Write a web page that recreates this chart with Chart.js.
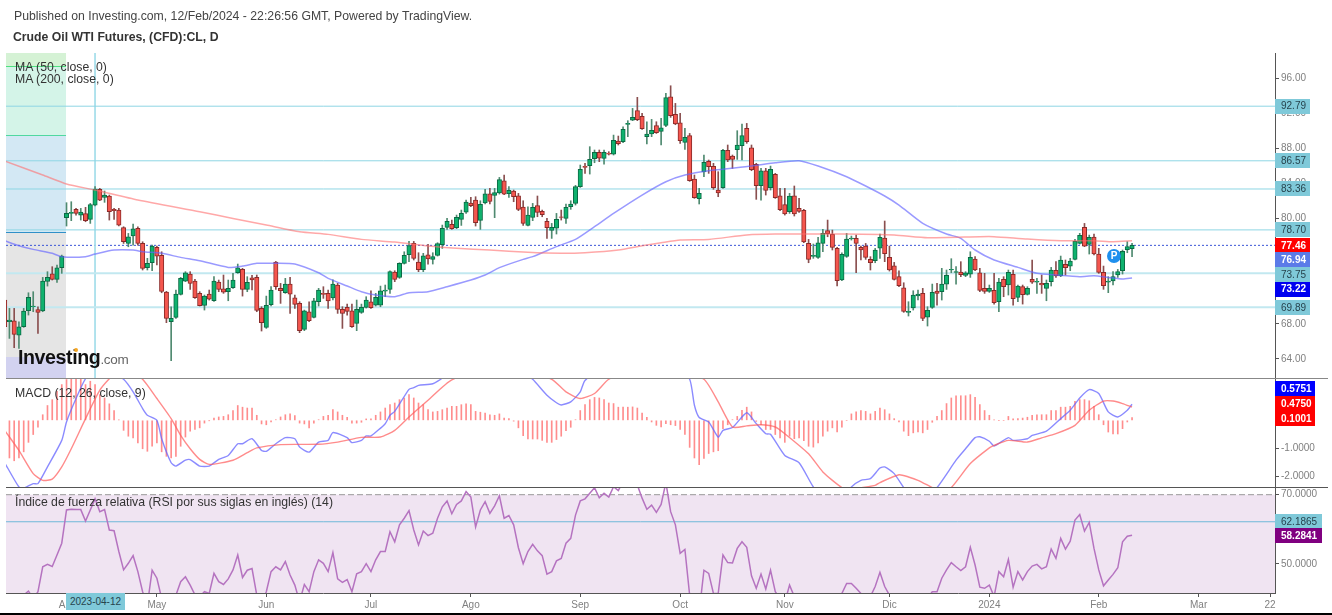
<!DOCTYPE html>
<html>
<head>
<meta charset="utf-8">
<title>Crude Oil WTI Futures</title>
<script src="https://cdn.jsdelivr.net/npm/chart.js@4"></script>
<style>
  html, body { margin: 0; padding: 0; background: #fff; overflow: hidden; }
  body { width: 1332px; height: 615px; position: relative; font-family: "Liberation Sans", Arial, sans-serif; }
  canvas { position: absolute; left: 0; }
  .txt { position: absolute; font-size: 12.25px; line-height: 14px; color: #333; white-space: nowrap; }
  .rule { position: absolute; height: 1px; }
</style>
</head>
<body>
<canvas id="priceChart" width="1332" height="379" style="top:0"></canvas>
<canvas id="macdChart" width="1332" height="110" style="top:378px"></canvas>
<canvas id="rsiChart" width="1332" height="125" style="top:488px"></canvas>

<div class="rule" style="left:6px;top:378px;width:1322px;background:#888"></div>
<div class="rule" style="left:6px;top:487px;width:1322px;background:#555"></div>
<div style="position:absolute;left:0;top:613px;width:1332px;height:2px;background:#000"></div>

<div class="txt" style="left:14px;top:9px;color:#444">Published on Investing.com, 12/Feb/2024 - 22:26:56 GMT, Powered by TradingView.</div>
<div class="txt" style="left:13px;top:30px;font-weight:bold">Crude Oil WTI Futures, (CFD):CL, D</div>
<div class="txt" style="left:15px;top:60px">MA (50, close, 0)</div>
<div class="txt" style="left:15px;top:72px">MA (200, close, 0)</div>
<div class="txt" style="left:15px;top:386px">MACD (12, 26, close, 9)</div>
<div class="txt" style="left:15px;top:495px">Índice de fuerza relativa (RSI por sus siglas en inglés) (14)</div>

<div class="txt" style="left:18px;top:345px;font-size:19.6px;line-height:24px;font-weight:bold;color:#111;letter-spacing:-0.4px">Investing<span style="font-size:13.5px;font-weight:normal;color:#666;letter-spacing:-0.3px">.com</span></div>
<div style="position:absolute;left:74px;top:348px;width:4px;height:4px;border-radius:2px;background:#f5a623"></div>

<div class="txt" style="left:1107px;top:249px;width:14px;height:14px;border-radius:7px;background:#1e90ee;color:#fff;font-weight:bold;font-size:10px;text-align:center">P</div>
<div class="txt" style="left:66px;top:593px;width:59px;height:17px;line-height:18px;font-size:10px;background:#7fc9d9;color:#27444e;text-align:center">2023-04-12</div>

<script>
// daily candles
const opens = [70.71,68.24,68.35,66.72,67.67,69.49,69.95,69.61,69.46,72.84,73.71,73.06,74.39,80.09,80.58,81.04,80.39,80.55,79.90,81.53,83.32,82.41,82.56,81.04,80.96,78.95,77.16,78.00,78.87,77.16,74.39,74.96,76.71,75.80,71.62,68.24,68.73,71.35,72.87,73.67,72.87,71.47,70.10,71.39,70.63,72.76,72.00,71.66,72.11,73.82,74.20,71.92,73.25,73.29,69.76,67.60,70.18,75.04,72.04,71.54,72.53,70.97,70.33,67.37,69.38,68.73,70.52,71.47,71.47,70.94,72.42,69.65,69.87,69.49,68.05,69.31,69.87,70.52,70.14,70.14,71.73,71.92,73.90,73.29,74.89,75.87,77.16,75.04,74.17,75.87,75.34,75.80,77.01,78.99,79.33,78.95,79.90,80.73,81.76,82.10,79.78,81.76,82.82,82.63,82.90,84.30,82.82,83.13,82.59,81.30,79.21,80.13,81.46,80.81,79.67,78.65,78.91,80.20,80.01,81.34,81.72,83.62,85.94,86.01,86.81,87.53,86.85,87.42,87.34,88.82,88.75,90.72,91.21,92.28,91.63,89.32,89.62,90.57,89.92,90.61,93.87,91.86,90.91,88.67,89.43,84.49,82.25,85.29,86.51,85.94,83.24,83.51,87.76,87.11,87.83,88.29,90.26,88.06,86.16,83.73,85.44,83.51,85.02,82.59,81.57,80.77,82.59,81.15,80.92,77.16,75.68,75.57,77.16,78.61,78.19,76.59,72.99,75.68,77.66,77.73,76.71,76.86,75.34,75.19,76.63,77.77,75.57,74.62,73.37,72.11,69.31,69.80,71.17,71.47,68.77,69.87,71.73,71.66,72.53,74.13,73.86,73.90,73.52,73.67,75.38,73.82,72.04,71.70,71.81,70.52,73.07,72.42,73.63,71.02,72.23,71.36,73.07,72.76,72.61,72.04,72.80,74.09,73.45,74.77,74.58,75.34,77.17,78.99,77.05,77.89,75.95,73.86,72.76,72.88,73.56,74.05,76.44,76.56];
const highs = [71.66,69.76,69.76,68.24,69.76,71.54,71.66,69.95,73.29,73.94,74.51,74.70,75.83,81.80,81.91,81.15,81.15,81.27,81.72,83.62,83.43,83.13,82.67,81.15,81.15,79.06,78.30,79.37,79.06,77.35,75.46,76.97,76.86,76.21,71.70,69.95,71.85,73.29,73.94,73.94,73.06,71.66,71.28,71.85,73.37,72.99,73.56,72.99,73.75,74.81,74.32,73.37,73.52,73.56,69.95,71.16,72.23,75.11,72.61,73.18,73.29,71.28,70.52,69.57,70.52,70.90,72.04,72.23,71.85,73.00,72.61,69.95,70.25,70.25,70.71,70.25,71.09,71.77,71.47,72.30,72.42,74.05,74.05,74.96,76.21,77.39,77.39,76.10,76.03,77.05,76.10,77.24,79.25,80.01,79.82,80.39,80.96,82.10,82.40,82.48,82.02,83.32,83.43,83.43,84.68,84.95,83.62,83.24,82.86,82.02,81.34,81.72,82.56,80.96,80.01,79.44,80.58,80.96,81.65,82.02,83.77,86.09,86.28,88.18,87.80,87.80,87.80,87.61,89.50,89.39,90.45,91.14,92.54,93.80,91.97,91.02,91.29,91.02,91.40,94.25,95.12,93.11,91.97,90.26,89.69,84.95,83.43,87.23,86.66,86.28,85.33,87.87,88.37,87.23,90.00,90.76,90.83,88.37,86.28,85.71,85.71,85.97,85.14,83.43,83.43,82.86,83.70,82.29,81.04,77.62,77.09,77.85,78.76,79.82,78.68,76.71,76.10,78.30,78.00,78.11,76.86,77.16,75.65,76.59,78.23,79.71,76.86,75.00,74.05,72.68,70.52,71.77,71.85,72.04,69.95,72.53,72.61,74.32,74.13,75.42,74.51,75.08,73.94,76.21,75.65,74.32,73.75,72.42,73.75,73.18,73.37,74.13,74.13,72.42,72.42,72.23,75.27,73.18,73.56,72.99,74.43,75.08,75.72,75.27,75.46,77.62,78.31,79.44,78.11,78.23,76.60,74.58,73.37,73.94,74.20,76.41,77.36,77.17];
const lows = [67.10,66.34,65.28,65.20,67.60,69.00,69.38,66.91,69.38,72.30,72.99,72.72,73.75,79.14,79.75,80.39,79.82,79.63,79.44,81.42,82.03,81.84,79.82,79.90,79.14,77.16,76.78,76.97,76.97,74.13,74.13,74.05,74.70,71.54,68.13,63.80,68.62,71.28,72.80,71.92,70.90,70.03,69.57,70.71,70.56,71.66,71.47,70.63,72.04,73.75,71.16,71.66,71.85,69.38,67.18,67.48,70.03,71.92,70.33,71.47,69.19,69.76,66.99,67.22,68.24,68.66,70.03,70.90,69.76,70.71,69.19,67.48,69.00,67.60,67.22,69.19,69.80,69.76,70.03,69.95,71.09,71.47,72.80,73.18,74.81,75.08,75.27,73.94,73.94,74.81,74.81,75.72,76.59,78.76,78.76,78.84,79.21,80.58,81.34,79.14,78.76,81.65,81.65,80.09,82.78,82.71,82.40,81.91,80.89,79.21,79.14,79.75,80.20,80.20,77.73,77.73,78.23,79.82,79.44,81.04,81.53,83.54,85.14,85.06,86.35,86.47,86.20,87.23,87.23,88.37,88.63,89.32,91.14,91.14,90.15,88.48,89.32,89.69,88.37,90.45,91.52,90.68,88.56,87.87,84.23,82.29,81.65,84.76,85.14,83.32,82.48,83.43,86.47,85.71,86.73,86.66,88.56,85.44,82.18,82.10,82.67,83.24,82.29,80.89,80.39,80.58,80.28,80.70,77.24,74.96,75.46,75.46,76.21,77.92,76.41,72.31,72.91,75.57,77.54,73.82,75.27,75.34,74.13,74.96,75.46,75.08,74.01,72.99,72.23,69.31,68.89,69.57,70.71,68.36,67.75,69.76,70.14,70.71,71.92,73.82,72.53,73.37,73.37,73.29,74.05,71.66,71.47,71.58,70.25,69.38,71.09,71.28,70.14,70.52,70.25,71.28,72.61,71.47,71.47,70.63,72.31,73.29,73.37,73.56,74.05,75.27,77.09,76.79,75.95,75.84,73.75,71.93,71.55,72.42,73.29,73.67,76.10,75.65];
const closes = [67.67,68.43,66.80,67.67,69.46,71.01,70.03,69.30,72.87,73.29,73.06,74.39,75.72,80.58,80.70,80.58,80.74,79.75,81.57,83.35,82.10,82.67,80.77,80.89,79.25,77.35,77.92,78.83,77.16,74.32,74.89,76.86,75.72,71.70,68.62,68.62,71.39,73.18,73.82,72.61,70.97,70.06,71.16,70.82,72.87,71.92,71.62,72.04,72.99,74.39,71.92,72.72,72.99,69.53,68.13,70.10,71.85,72.23,71.77,72.53,71.39,70.22,67.22,69.49,68.35,70.63,71.85,71.35,70.60,72.53,69.65,69.19,69.42,67.67,69.65,69.87,70.71,69.84,71.01,71.77,71.85,73.94,73.06,74.89,75.80,76.90,75.46,74.17,75.76,75.38,75.65,77.13,78.87,79.67,78.84,80.13,80.58,81.87,81.46,79.52,81.61,82.82,81.95,82.94,84.42,82.78,83.20,82.48,81.04,79.44,80.39,81.27,80.70,80.43,78.95,78.99,79.90,80.13,81.27,81.65,83.62,85.59,85.82,86.73,87.53,86.88,87.53,87.34,88.90,88.52,90.15,90.83,91.52,91.25,90.23,89.62,90.04,89.77,90.34,93.76,91.71,90.76,88.86,89.24,84.30,82.37,82.86,86.39,85.90,83.51,82.90,87.76,86.66,86.73,88.37,89.43,88.75,85.56,83.73,85.44,83.20,85.59,82.37,81.00,80.51,82.56,80.51,80.81,77.32,75.34,75.80,77.24,78.30,78.27,76.71,72.91,75.91,77.66,77.77,77.16,76.41,75.57,74.96,76.41,77.85,75.99,74.13,73.06,72.34,69.42,69.42,71.28,71.39,68.62,69.53,71.58,71.47,72.53,73.52,74.20,73.94,73.59,73.82,75.57,74.13,71.81,71.70,72.04,70.41,72.76,72.23,73.86,70.86,72.31,71.32,72.04,72.76,72.84,72.42,72.61,74.13,73.45,75.27,74.39,75.15,77.39,78.08,76.86,77.85,75.95,73.86,72.34,72.88,73.37,73.94,76.25,76.79,76.94];

// moving averages, read at the bends only
const ma50Bars = [0,3,6,10,12,17,19,23,27,29,33,37,41,47,50,53,57,61,66,68,72,75,78,82,85,89,93,98,101,104,109,111,116,120,124,128,134,139,143,148,157,162,167,171,177,181,185,188,193,198,201,204,208,213,217,221,226,229,232,235,237];
const ma50Values = [77.47,76.90,76.48,76.03,75.65,75.65,75.95,76.41,76.41,76.22,76.03,75.57,75.19,74.43,74.58,74.89,74.89,74.81,73.82,73.18,72.31,71.66,71.28,71.09,71.55,71.66,72.23,72.99,73.56,74.40,75.34,75.65,76.79,77.62,79.07,80.58,82.67,84.19,84.95,85.44,85.97,86.35,86.58,85.97,84.76,83.70,82.56,81.53,79.45,78.23,77.74,76.41,75.27,74.43,73.75,73.56,73.37,73.48,73.29,73.10,73.22];
const ma200Bars = [0,8,13,19,28,41,48,55,62,68,75,82,89,95,102,110,117,122,129,134,138,142,148,156,162,177,187,194,205,208,215,222,229,233,237];
const ma200Values = [86.55,84.95,83.93,83.24,82.10,80.77,80.01,79.25,78.49,78.19,77.62,77.32,76.86,76.60,76.41,76.14,76.03,76.10,76.41,76.90,77.24,77.55,77.62,78.12,78.23,78.23,78.12,77.81,77.93,77.93,77.66,77.47,77.47,77.36,77.46];

const levels = [92.79,86.57,83.36,78.70];
const paleLevels = [73.75,69.89];
const lastClose = 76.94;
const fibLevels = [98.85,97.37,89.50,78.46,64.22,61.83];
const priceTicks = [64,68,72,76,80,84,88,92,96];

const macdBars = [0,3,4,6,7,9,12,13,15,17,20,25,27,29,30,32,33,35,36,38,39,41,43,45,47,49,50,52,54,55,57,59,61,62,64,66,68,69,72,73,75,76,77,80,81,82,85,86,87,90,92,98,105,111,114,116,117,119,121,122,133,141,144,145,146,148,150,151,153,156,158,160,161,164,167,170,174,178,180,182,184,185,187,189,192,196,200,202,204,205,207,208,211,212,215,216,219,222,224,226,228,230,232,234,236,237];
const macdValues = [-1.52,-2.39,-2.43,-2.27,-2.27,-1.67,-0.72,-0.06,0.78,1.49,2.09,1.47,1.02,0.42,0.18,0.00,-0.66,-1.52,-1.64,-1.43,-1.41,-1.64,-1.64,-1.40,-1.26,-0.84,-0.84,-0.66,-1.08,-1.11,-0.84,-0.62,-0.66,-0.96,-1.14,-0.78,-0.72,-0.44,-0.62,-0.80,-0.72,-0.56,-0.56,-0.12,0.18,0.32,1.11,1.17,1.25,1.31,1.52,2.69,2.33,1.47,0.90,0.63,0.55,0.66,1.02,1.43,2.93,1.97,1.47,0.54,0.10,-0.06,-0.60,-0.36,-0.26,0.27,-0.12,-0.48,-0.50,-1.26,-1.52,-2.39,-3.17,-2.39,-2.15,-2.09,-1.71,-1.67,-1.91,-2.41,-3.05,-2.41,-1.43,-1.02,-0.62,-0.59,-0.75,-0.92,-0.62,-0.72,-0.66,-0.54,-0.39,0.06,0.36,0.80,1.10,0.96,0.30,0.12,0.36,0.575];
const signalBars = [0,3,6,8,10,12,14,17,20,22,25,29,32,35,37,39,41,43,48,51,53,58,66,70,75,79,82,85,89,94,105,115,118,121,124,127,137,147,150,153,156,159,162,164,169,172,176,178,183,184,188,190,192,195,197,199,203,207,208,211,215,218,221,225,228,231,233,235,237];
const signalValues = [-0.36,-1.08,-1.91,-2.15,-2.11,-1.67,-1.02,0.06,1.08,1.49,1.97,1.47,0.78,0.06,-0.54,-1.02,-1.40,-1.58,-1.43,-1.16,-0.99,-0.87,-0.86,-0.78,-0.61,-0.60,-0.36,0.12,0.72,1.45,2.03,1.47,1.02,0.78,0.96,1.47,2.33,1.47,0.66,-0.24,-0.20,-0.16,-0.24,-0.48,-1.20,-1.85,-2.41,-2.45,-2.33,-2.23,-1.95,-2.03,-2.15,-2.41,-2.57,-2.41,-1.55,-0.99,-0.90,-0.72,-0.78,-0.63,-0.48,-0.18,0.36,0.69,0.69,0.60,0.475];
const macdHist = [-1.25,-1.35,-1.45,-1.35,-1.13,-0.79,-0.51,-0.25,0.20,0.53,0.74,1.04,1.28,1.46,1.52,1.52,1.58,1.28,1.40,1.28,0.92,0.80,0.59,0.35,0.02,-0.36,-0.57,-0.63,-0.81,-1.02,-1.11,-0.93,-0.81,-1.13,-1.29,-1.35,-1.29,-0.93,-0.60,-0.39,-0.33,-0.27,-0.10,-0.01,0.08,0.12,0.14,0.20,0.35,0.53,0.47,0.44,0.44,0.18,-0.13,-0.16,-0.06,0.02,0.12,0.20,0.23,0.17,-0.10,-0.13,-0.27,-0.10,0.02,0.14,0.18,0.38,0.30,0.18,0.11,-0.10,-0.10,-0.07,0.05,0.05,0.18,0.30,0.44,0.56,0.62,0.74,0.80,0.92,0.80,0.62,0.56,0.38,0.30,0.32,0.38,0.44,0.50,0.50,0.56,0.59,0.56,0.32,0.29,0.26,0.20,0.18,0.23,0.08,0.06,-0.03,-0.27,-0.55,-0.67,-0.67,-0.67,-0.72,-0.79,-0.79,-0.69,-0.57,-0.37,-0.25,0.02,0.35,0.56,0.74,0.82,0.80,0.74,0.62,0.60,0.47,0.47,0.47,0.48,0.44,0.26,0.11,-0.06,-0.18,-0.24,-0.12,-0.16,-0.19,-0.33,-0.51,-0.97,-1.35,-1.59,-1.37,-1.19,-1.13,-1.09,-0.30,-0.16,0.02,0.14,0.36,0.47,0.30,-0.04,-0.16,-0.33,-0.33,-0.51,-0.63,-0.79,-0.57,-0.66,-0.63,-0.73,-0.93,-0.96,-0.81,-0.57,-0.39,-0.27,-0.42,-0.25,0,0.23,0.30,0.35,0.32,0.23,0.32,0.44,0.38,0.23,0.06,-0.06,-0.39,-0.55,-0.45,-0.42,-0.45,-0.33,-0.07,0.14,0.35,0.60,0.80,0.88,0.88,0.88,0.92,0.82,0.56,0.35,0.18,0.01,0,0,0.14,0.05,0.06,0.08,0.11,0.18,0.20,0.20,0.20,0.35,0.35,0.47,0.47,0.50,0.68,0.74,0.74,0.70,0.50,0.20,-0.16,-0.42,-0.49,-0.49,-0.30,-0.06,0.10];
const macdTicks = [-2,-1,0];

const rsiValues = [35.0,36.0,38.0,40.0,41.0,42.2,40.0,42.0,49.2,49.9,49.3,52.6,56.0,65.6,65.8,65.7,65.7,62.4,65.6,68.8,65.1,65.7,59.8,59.6,53.6,48.3,50.2,52.4,47.8,42.0,38.2,48.2,45.9,40.1,39.1,39.6,41.0,44.9,46.3,43.9,41.1,40.6,42.0,41.5,47.3,44.9,44.1,45.7,48.3,52.6,46.1,48.2,48.7,41.0,38.2,42.0,47.8,49.2,48.3,50.7,46.8,43.9,39.1,44.1,42.0,47.8,51.2,50.2,47.8,53.3,45.7,44.7,45.5,42.0,47.2,47.8,50.1,47.8,51.2,53.6,53.6,59.3,56.4,61.3,63.2,65.4,59.8,55.5,59.5,58.2,58.9,63.2,66.5,68.2,64.5,67.2,68.2,70.9,69.3,60.7,65.6,68.0,64.6,66.8,69.7,63.2,64.0,61.3,54.7,50.1,53.6,55.7,53.8,52.4,47.1,47.8,50.9,51.6,56.0,57.4,64.1,68.2,68.8,70.4,72.0,69.1,70.4,69.3,72.3,71.2,73.8,74.2,74.7,72.8,69.0,65.8,67.0,64.9,67.2,73.5,65.1,61.3,53.1,54.2,41.0,35.0,36.0,48.2,47.3,41.5,41.5,52.6,50.4,50.3,54.5,56.4,54.8,46.6,43.0,47.1,42.8,48.2,42.0,40.1,39.0,43.9,40.6,38.2,35.0,34.3,34.3,35.0,36.0,37.2,38.6,40.1,41.5,44.4,44.4,43.0,41.5,40.1,40.6,43.5,47.6,43.5,41.0,39.0,38.2,37.2,36.2,36.7,37.2,38.2,40.1,42.0,42.0,45.9,48.3,50.4,49.2,48.1,49.2,54.8,49.7,43.3,43.0,43.9,40.6,47.8,46.3,51.3,43.3,47.8,45.4,47.8,49.4,49.9,48.6,49.2,54.3,51.6,57.4,54.3,56.6,62.7,64.3,59.5,62.0,54.5,48.3,43.7,45.4,47.0,48.9,56.4,58.0,58.28];
const rsiTicks = [50,70];
const rsiUpper = 70;
const rsiLevel = 62.1865;

const monthBars = [13,32,55,77,98,121,142,164,186,207,230,251,266];
const monthNames = ['Apr','May','Jun','Jul','Ago','Sep','Oct','Nov','Dic','2024','Feb','Mar','22'];
const cursorBar = 19;

const priceTagText = ['92.79','86.57','83.36','78.70','77.46','76.94','73.75','73.22','69.89'];
const priceTagValues = [92.79,86.57,83.36,78.70,77.46,76.94,73.75,73.22,69.89];
const macdTagText = ['0.5751','0.4750','0.1001'];
const macdTagValues = [0.5751,0.4750,0.1001];
const rsiTagText = ['62.1865','58.2841'];
const rsiTagValues = [62.1865,58.2841];

const FONT = '"Liberation Sans", Arial, sans-serif';
const TEAL = '#7fc9d9';
const XMIN = 0.28, XMAX = 267.05;

function xy(bars, vals) {
    return vals.map((v, i) => ({x: bars[i], y: v}));
}
function seq(vals) {
    return vals.map((v, i) => ({x: i, y: v}));
}
function flatLine(value, color, width, dash) {
    return {type: 'line', data: [{x: XMIN, y: value}, {x: XMAX, y: value}], borderColor: color,
        borderWidth: width, borderDash: dash || [], pointRadius: 0, order: 9};
}
function curve(data, color, width) {
    return {type: 'line', data: data, borderColor: color, borderWidth: width, pointRadius: 0, tension: 0.2, order: 1};
}
function noLabelPadding(s) {
    s.paddingTop = 0; s.paddingBottom = 0; s.paddingLeft = 0; s.paddingRight = 0;
}

function xScale(show) {
    return {
        type: 'linear', offset: false, min: XMIN, max: XMAX, display: show,
        afterBuildTicks: s => { s.ticks = monthBars.map(v => ({value: v})); },
        afterFit: s => { if (show) s.height = 20; noLabelPadding(s); },
        grid: {offset: false, drawOnChartArea: false, drawTicks: true, tickLength: 4, color: '#555'},
        border: {display: true, color: '#555'},
        ticks: {autoSkip: false, maxRotation: 0, padding: 2, color: '#808080', font: {family: FONT, size: 10},
            callback: (v, i) => monthNames[i]}
    };
}
function yScale(min, max, ticks, digits) {
    return {
        position: 'right', min: min, max: max,
        afterBuildTicks: s => { s.ticks = ticks.map(v => ({value: v})); },
        afterFit: s => { s.width = 57; noLabelPadding(s); },
        grid: {drawOnChartArea: false, drawTicks: true, tickLength: 4, color: '#555'},
        border: {display: true, color: '#555'},
        ticks: {padding: 2, color: '#808080', font: {family: FONT, size: 10},
            callback: v => v.toFixed(digits)}
    };
}

// coloured value boxes on the right axis
function tagsPlugin(texts, values, look) {
    return {
        id: 'tags',
        afterDraw(chart) {
            const c = chart.ctx, s = chart.scales.y;
            c.save();
            c.textBaseline = 'middle';
            texts.forEach((t, i) => {
                const y = s.getPixelForValue(values[i]) + look[i].shift;
                c.fillStyle = look[i].bg;
                c.fillRect(1275, Math.round(y - 7.5), look[i].w, 15);
                c.font = (look[i].fg === '#fff' ? 'bold ' : '') + '10px ' + FONT;
                c.fillStyle = look[i].fg;
                c.fillText(t, 1281, y + 0.5);
            });
            c.restore();
        }
    };
}

const fibZones = {
    id: 'fibZones',
    beforeDatasetsDraw(chart) {
        const c = chart.ctx, y = chart.scales.y, a = chart.chartArea;
        const right = chart.scales.x.getPixelForValue(12.9);
        const fills = ['#d5f2d5', '#d4f4e8', '#d3e8f4', '#e5e5e5', '#d2d2f0'];
        const edges = [null, '#50e080', '#50d8a0', '#3090c8', null];
        c.save();
        fills.forEach((f, i) => {
            const top = y.getPixelForValue(fibLevels[i]), bot = y.getPixelForValue(fibLevels[i + 1]);
            c.fillStyle = f;
            c.fillRect(a.left, top, right - a.left, bot - top);
            if (edges[i]) {
                c.fillStyle = edges[i];
                c.fillRect(a.left, Math.round(top), right - a.left, 1);
            }
        });
        c.restore();
    }
};

const rsiBand = {
    id: 'rsiBand',
    beforeDatasetsDraw(chart) {
        const c = chart.ctx, y = chart.scales.y, a = chart.chartArea;
        const top = y.getPixelForValue(rsiUpper);
        c.save();
        c.fillStyle = '#f0e4f2';
        c.fillRect(a.left, top, a.right - a.left, a.bottom - top);
        c.restore();
    },
    afterDraw(chart) {
        // the last month label is cut off at the axis
        const c = chart.ctx, a = chart.chartArea;
        c.save();
        c.fillStyle = '#fff';
        c.fillRect(a.right + 1, a.bottom + 1, 60, 24);
        c.restore();
    }
};

const isUp = i => closes[i] >= opens[i];
const common = {
    responsive: false, animation: false, events: [],
    plugins: {legend: {display: false}, title: {display: false}, tooltip: {enabled: false}}
};

new Chart(document.getElementById('priceChart').getContext('2d'), {
    type: 'bar',
    data: {datasets: [
        ...levels.map(v => flatLine(v, '#8ed6e4', 1)),
        ...paleLevels.map(v => flatLine(v, '#c2e8f0', 2)),
        {type: 'line', data: [{x: cursorBar, y: fibLevels[0]}, {x: cursorBar, y: fibLevels[5]}],
            borderColor: '#a6deea', borderWidth: 1, pointRadius: 0, order: 9},
        flatLine(lastClose, '#3a55d8', 1, [2, 2]),
        curve(xy(ma200Bars, ma200Values), 'rgba(255,110,110,0.6)', 1.5),
        curve(xy(ma50Bars, ma50Values), 'rgba(100,100,255,0.65)', 1.5),
        {data: highs.map((h, i) => ({x: i, y: [lows[i], h]})), grouped: false, barThickness: 1, order: 3,
            backgroundColor: highs.map((h, i) => isUp(i) ? '#4f8a70' : '#8a4f4f')},
        {data: opens.map((o, i) => ({x: i, y: [o, closes[i]]})), grouped: false, barThickness: 4.4, order: 2,
            borderWidth: 1, borderSkipped: false,
            backgroundColor: opens.map((o, i) => isUp(i) ? '#0fb26e' : '#f4564e'),
            borderColor: opens.map((o, i) => isUp(i) ? '#0b6a44' : '#8a2a28')}
    ]},
    options: {...common,
        layout: {autoPadding: false, padding: {left: 6, top: 53, bottom: 1, right: 0}},
        scales: {x: xScale(false), y: yScale(fibLevels[5], fibLevels[0], priceTicks, 2)}
    },
    plugins: [fibZones, tagsPlugin(priceTagText, priceTagValues, [
        {bg: TEAL, fg: '#27444e', w: 35, shift: 0},
        {bg: TEAL, fg: '#27444e', w: 35, shift: 0},
        {bg: TEAL, fg: '#27444e', w: 35, shift: 0},
        {bg: TEAL, fg: '#27444e', w: 35, shift: 0},
        {bg: '#ff0000', fg: '#fff', w: 35, shift: 4.6},
        {bg: '#5b7be8', fg: '#fff', w: 35, shift: 14.5},
        {bg: TEAL, fg: '#27444e', w: 35, shift: 1.5},
        {bg: '#0000f0', fg: '#fff', w: 35, shift: 11},
        {bg: TEAL, fg: '#27444e', w: 35, shift: 0.5}
    ])]
});

new Chart(document.getElementById('macdChart').getContext('2d'), {
    type: 'bar',
    data: {datasets: [
        {data: seq(macdHist), grouped: false, barThickness: 1, backgroundColor: 'rgba(255,80,80,0.65)', order: 3},
        curve(xy(signalBars, signalValues), 'rgba(255,90,90,0.7)', 1.4),
        curve(xy(macdBars, macdValues), 'rgba(100,100,255,0.75)', 1.4)
    ]},
    options: {...common,
        layout: {autoPadding: false, padding: {left: 6, top: 1, bottom: 1, right: 0}},
        scales: {x: xScale(false), y: yScale(-2.39, 1.48, macdTicks, 4)}
    },
    plugins: [tagsPlugin(macdTagText, macdTagValues, [
        {bg: '#0000ff', fg: '#fff', w: 40, shift: -15.3},
        {bg: '#ff0000', fg: '#fff', w: 40, shift: -3.7},
        {bg: '#ff0000', fg: '#fff', w: 40, shift: 0.8}
    ])]
});

new Chart(document.getElementById('rsiChart').getContext('2d'), {
    type: 'line',
    data: {datasets: [
        flatLine(rsiUpper, '#999', 1, [6, 3]),
        flatLine(rsiLevel, '#6fb8d8', 1),
        {data: seq(rsiValues), borderColor: '#b573c0', borderWidth: 1.5, pointRadius: 0, tension: 0, order: 1}
    ]},
    options: {...common,
        layout: {autoPadding: false, padding: {left: 6, top: 0, bottom: 0, right: 0}},
        scales: {x: xScale(true), y: yScale(41.63, 71.93, rsiTicks, 4)}
    },
    plugins: [rsiBand, tagsPlugin(rsiTagText, rsiTagValues, [
        {bg: TEAL, fg: '#27444e', w: 47, shift: 0},
        {bg: '#800080', fg: '#fff', w: 47, shift: 0}
    ])]
});
</script>
</body>
</html>
